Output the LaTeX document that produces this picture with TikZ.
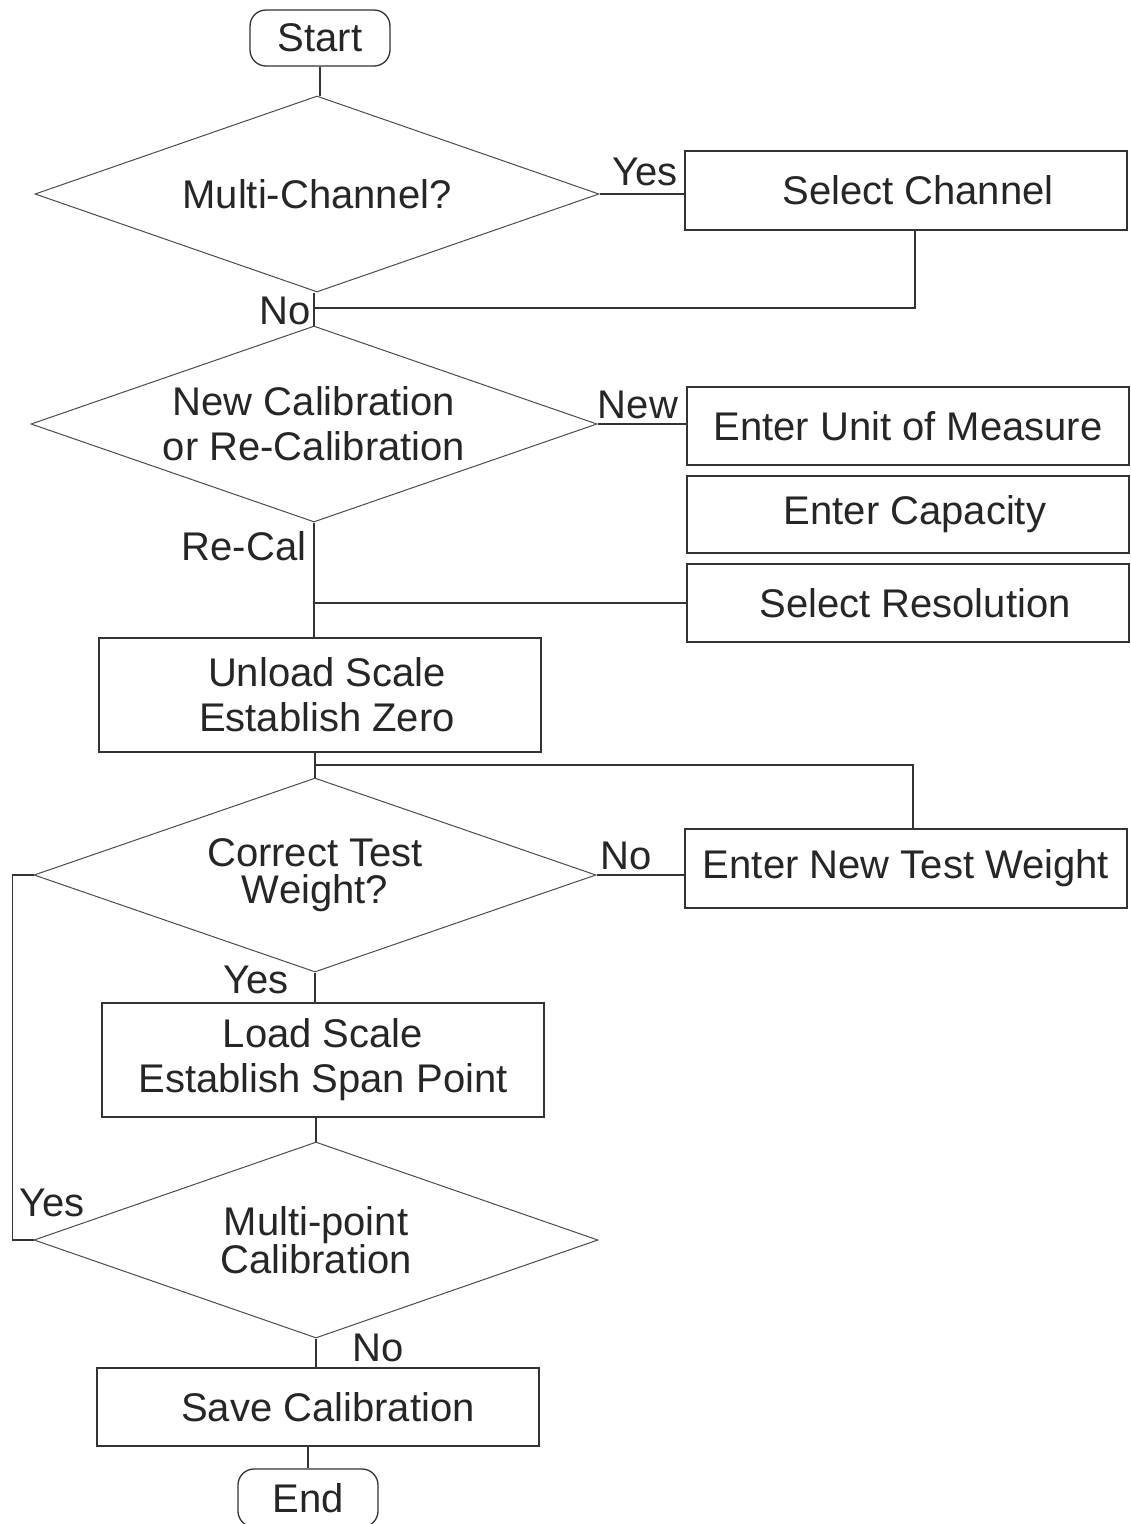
\documentclass[tikz,border=0pt]{standalone}
\usepackage{fontspec}
\setmainfont{Liberation Sans}
\usetikzlibrary{shapes.geometric}
\begin{document}
\begin{tikzpicture}[x=1pt,y=-1pt,
  every node/.style={text=black!85, font=\fontsize{40}{45}\selectfont},
  box/.style={draw=black!80, line width=1.3pt, rectangle, inner sep=0pt, align=center, minimum width=442pt},
  term/.style={draw=black!80, line width=1.3pt, rectangle, rounded corners=16pt, inner sep=0pt, minimum width=140pt},
  dec/.style={draw=black!70, line width=1pt, diamond, shape aspect=2.88, inner sep=0pt, align=center},
  lbl/.style={inner sep=0pt},
  con/.style={draw=black!80, line width=1.3pt}]
\fill[white] (0,0) rectangle (1131,1524);
\useasboundingbox (0,0) rectangle (1131,1524);

% nodes
\node[term, minimum height=56pt] (start) at (320,38) {Start};
\node[dec, minimum width=564pt, minimum height=196pt] (d1) at (317,194) {Multi-Channel?};
\node[box, minimum height=79pt] (sel) at (906,190.5) {\hspace*{24pt}Select Channel};
\node[dec, minimum width=566pt, minimum height=196pt] (d2) at (314,424) {New Calibration\\or Re-Calibration};
\node[box, minimum height=78pt] (unit) at (908,426) {Enter Unit of Measure};
\node[box, minimum height=77pt] (cap) at (908,514.5) {\hspace*{14pt}Enter Capacity};
\node[box, minimum height=78pt] (res) at (908,603) {\hspace*{14pt}Select Resolution};
\node[box, minimum height=114pt] (unload) at (320,695) {\hspace*{14pt}Unload Scale\\\hspace*{14pt}Establish Zero};
\node[dec, minimum width=562pt, minimum height=194pt, font=\fontsize{40}{37}\selectfont] (d3) at (315,875) {Correct Test\\Weight?};
\node[box, minimum height=79pt] (newtw) at (906,868.5) {Enter New Test Weight};
\node[box, minimum height=114pt] (load) at (323,1060) {Load Scale\\Establish Span Point};
\node[dec, minimum width=564pt, minimum height=196pt, font=\fontsize{40}{36}\selectfont] (d4) at (316,1240) {Multi-point\\Calibration};
\node[box, minimum height=78pt] (save) at (318,1407) {\hspace*{20pt}Save Calibration};
\node[term, minimum height=58pt] (end) at (308,1498) {End};

% labels
\node[lbl] (lyes1) at (645,172) {Yes};
\node[lbl] (lno1) at (285,311) {No};
\node[lbl] (lnew) at (638,405) {New};
\node[lbl] (lrecal) at (244,546) {Re-Cal};
\node[lbl] (lno2) at (626,856) {No};
\node[lbl] (lyes2) at (256,980) {Yes};
\node[lbl] (lyes3) at (52,1203) {Yes};
\node[lbl] (lno3) at (378,1348) {No};

% junctions
\coordinate (j1) at (d2.north |- 0,308);
\coordinate (j3) at (d3.north |- 0,765);

% connectors
\draw[con] (start.south) -- (start.south |- d1.north);
\draw[con] (d1.east) -- (d1.east -| sel.west);
\draw[con] ([xshift=9pt]sel.south) |- (j1);
\draw[con] (d2.north |- d1.south) -- (d2.north);
\draw[con] (d2.east) -- (d2.east -| unit.west);
\draw[con] (res.west) -- (res.west -| d2.south);
\draw[con] (d2.south) -- (d2.south |- unload.north);
\draw[con] (unload.south -| d3.north) -- (d3.north);
\draw[con] (j3) -| ([xshift=7pt]newtw.north);
\draw[con] (d3.east) -- (d3.east -| newtw.west);
\draw[con] (d3.south) -- (d3.south |- load.north);
\draw[con] (load.south -| d4.north) -- (d4.north);
\draw[con] (d4.west) -- ([xshift=-21pt]d4.west) |- (d3.west);
\draw[con] (d4.south) -- (d4.south |- save.north);
\draw[con] (save.south -| end.north) -- (end.north);
\end{tikzpicture}
\end{document}
